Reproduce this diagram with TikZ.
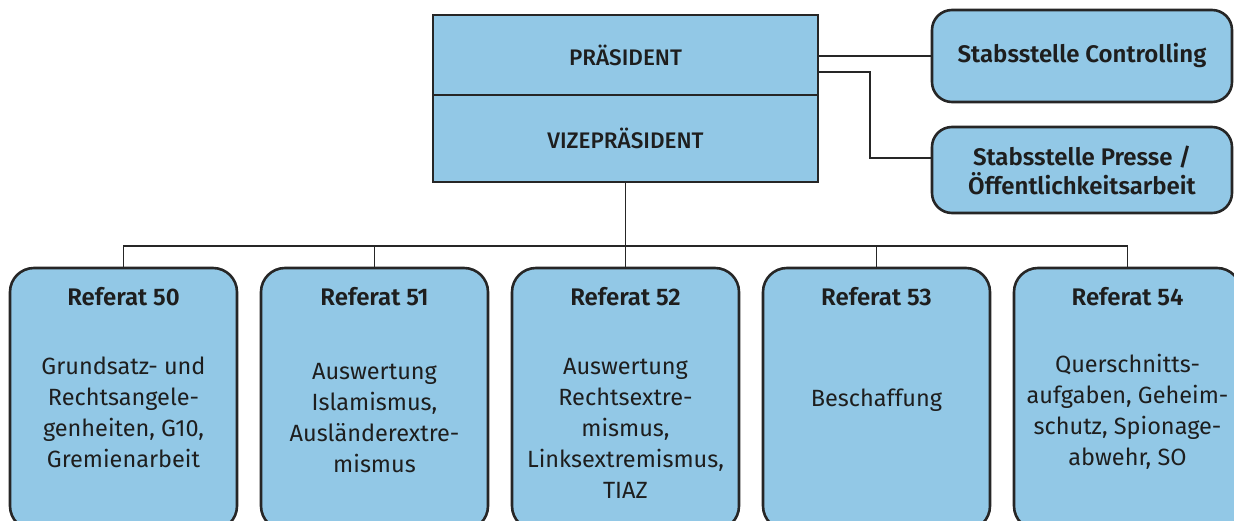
\documentclass[tikz,border=0pt]{standalone}
\usepackage{fontspec}
\setmainfont{Fira Sans}
\newfontfamily\firamed{Fira Sans Medium}
\newfontfamily\firasemi{Fira Sans SemiBold}
\definecolor{boxblue}{RGB}{146,200,230}
\definecolor{linegray}{RGB}{38,38,38}
\definecolor{txt}{RGB}{30,30,30}
\begin{document}
\begin{tikzpicture}[x=1pt,y=-1pt,
  box/.style={draw=linegray, line width=2.6pt, fill=boxblue, inner sep=0pt, text=txt},
  rbox/.style={box, rounded corners=24pt},
  conn/.style={draw=linegray, line width=1.4pt},
  headfont/.style={font=\firamed\fontsize{22.5}{28}\selectfont},
  titlefont/.style={font=\firasemi\fontsize{24}{29}\selectfont, text=txt, align=center},
  bodyfont/.style={font=\fontsize{23.5}{31}\selectfont, align=center, text=txt}]
\useasboundingbox (0,0) rectangle (1234,521);
\clip (0,0) rectangle (1234,521);

% top box
\node[box, headfont, minimum width=385pt, minimum height=80pt] (pres) at (625.5,55) {PRÄSIDENT};
\node[box, headfont, minimum width=385pt, minimum height=87pt] (vize) at (625.5,138.5) {VIZEPRÄSIDENT};

% staff units
\node[rbox, rounded corners=20pt, titlefont, minimum width=300pt, minimum height=92pt] (ctrl) at (1082,56) {Stabsstelle Controlling};
\node[rbox, rounded corners=20pt, titlefont, minimum width=300pt, minimum height=86pt] (presse) at (1082,170) {Stabsstelle Presse /\\Öffentlichkeitsarbeit};

% departments
\node[rbox, minimum width=227pt, minimum height=262pt] (r50) at (123.5,399) {};
\node[rbox, minimum width=227pt, minimum height=262pt] (r51) at (374.5,399) {};
\node[rbox, minimum width=227pt, minimum height=262pt] (r52) at (625.5,399) {};
\node[rbox, minimum width=227pt, minimum height=262pt] (r53) at (876.5,399) {};
\node[rbox, minimum width=227pt, minimum height=262pt] (r54) at (1127.5,399) {};

\node[titlefont] (t50) at (123.5,297) {Referat 50};
\node[titlefont] (t51) at (374.5,297) {Referat 51};
\node[titlefont] (t52) at (625.5,297) {Referat 52};
\node[titlefont] (t53) at (876.5,297) {Referat 53};
\node[titlefont] (t54) at (1127.5,297) {Referat 54};

\node[bodyfont] (b50) at (123.5,412) {Grundsatz- und\\Rechtsangele-\\genheiten, G10,\\Gremienarbeit};
\node[bodyfont] (b51) at (374.5,418) {Auswertung\\Islamismus,\\Ausländerextre-\\mismus};
\node[bodyfont] (b52) at (625.5,428) {Auswertung\\Rechtsextre-\\mismus,\\Linksextremismus,\\TIAZ};
\node[bodyfont] (b53) at (876.5,400) {Beschaffung};
\node[bodyfont] (b54) at (1127.5,412) {Querschnitts-\\aufgaben, Geheim-\\schutz, Spionage-\\abwehr, SO};

% connectors
\coordinate (k) at (870,72);
\coordinate (bus) at (625.5,246);
\draw[conn] (pres.east |- ctrl.west) -- (ctrl.west);
\draw[conn] (pres.east |- k) -- (k) |- ([yshift=12pt]presse.west);
\draw[conn] (vize.south) -- (bus);
\draw[conn] (r50.north) |- (r54.north |- bus) -- (r54.north);
\draw[conn] (r51.north) -- (r51.north |- bus);
\draw[conn] (r52.north) -- (r52.north |- bus);
\draw[conn] (r53.north) -- (r53.north |- bus);
\end{tikzpicture}
\end{document}
